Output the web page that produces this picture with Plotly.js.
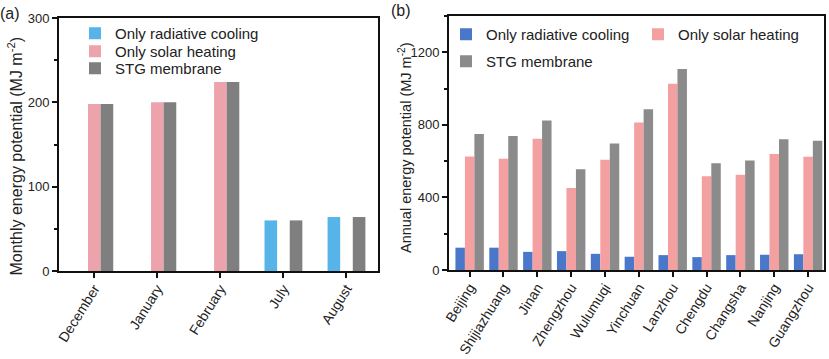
<!DOCTYPE html>
<html>
<head>
<meta charset="utf-8">
<script src="https://cdn.plot.ly/plotly-3.0.1.min.js"></script>
<style>html,body{margin:0;padding:0;background:#fff;}#chart{width:829px;height:359px;}</style>
</head>
<body>
<div id="chart"></div>
<script>
// Panel (a): monthly energy potential
const months = ['December', 'January', 'February', 'July', 'August'];
const monthCooling = [null, null, null, 60, 64];
const monthHeating = [198, 200, 224, null, null];
const monthSTG = [198, 200, 224, 60, 64];

// Panel (b): annual energy potential by city
const cities = ['Beijing', 'Shijiazhuang', 'Jinan', 'Zhengzhou', 'Wulumuqi', 'Yinchuan',
  'Lanzhou', 'Chengdu', 'Changsha', 'Nanjing', 'Guangzhou'];
const cityCooling = [123, 123, 100, 104, 89, 73, 82, 71, 82, 84, 87];
const cityHeating = [626, 613, 723, 452, 607, 813, 1026, 517, 525, 639, 624];
const citySTG = [749, 738, 824, 556, 697, 886, 1108, 589, 604, 721, 712];

const seriesNames = ['Only radiative cooling', 'Only solar heating', 'STG membrane'];
const titleA = 'Monthly energy potential (MJ m<sup>-2</sup>)';
const titleB = 'Annual energy potential (MJ m<sup>-2</sup>)';

const FONT = 'Arial, "Liberation Sans", Helvetica, sans-serif';
const TXT = '#222222';

const W = 829, H = 359;
const px = v => v / W;
const py = v => 1 - v / H;

function bar(x, y, name, color, xa, ya, offset, width, legend) {
  return {
    type: 'bar', x: x, y: y, name: name, xaxis: xa, yaxis: ya,
    offset: offset, width: width,
    marker: {color: color, line: {width: 0}},
    legend: legend, hoverinfo: 'x+y+name'
  };
}

const aW = 0.2, bW = 0.28;
const data = [
  bar(months, monthCooling, seriesNames[0], '#57b4e8', 'x', 'y', -1.5 * aW, aW, 'legend'),
  bar(months, monthHeating, seriesNames[1], '#eda3ab', 'x', 'y', -0.5 * aW, aW, 'legend2'),
  bar(months, monthSTG, seriesNames[2], '#7f7f7f', 'x', 'y', 0.5 * aW, aW, 'legend3'),
  bar(cities, cityCooling, seriesNames[0], '#4b77cb', 'x2', 'y2', -1.5 * bW, bW, 'legend4'),
  bar(cities, cityHeating, seriesNames[1], '#f5a0a0', 'x2', 'y2', -0.5 * bW, bW, 'legend5'),
  bar(cities, citySTG, seriesNames[2], '#8a8b8a', 'x2', 'y2', 0.5 * bW, bW, 'legend6')
];

const axisCommon = {
  showline: true, linecolor: '#111', linewidth: 2, mirror: true,
  showgrid: false, zeroline: false, automargin: false,
  ticks: 'outside', ticklen: 5, tickwidth: 2, tickcolor: '#111',
  tickfont: {family: FONT, size: 13, color: TXT}
};

const catFont = {family: FONT, size: 14, color: TXT};

function lg(xp, yTop) {
  return {
    font: {family: FONT, size: 15, color: TXT},
    bgcolor: 'rgba(0,0,0,0)', borderwidth: 0,
    xanchor: 'left', yanchor: 'top', orientation: 'v',
    x: px(xp), y: py(yTop)
  };
}

function ann(text, x, y, size, angle) {
  return {text: text, xref: 'paper', yref: 'paper', x: px(x), y: py(y),
    xanchor: 'center', yanchor: 'middle', textangle: angle || 0,
    showarrow: false, font: {family: FONT, size: size, color: TXT}};
}

const layout = {
  width: W, height: H,
  margin: {l: 0, r: 0, t: 0, b: 0, autoexpand: false},
  paper_bgcolor: '#fff', plot_bgcolor: '#fff',
  barmode: 'overlay',
  font: {family: FONT, size: 13, color: TXT},
  xaxis: Object.assign({}, axisCommon, {
    domain: [px(59), px(378)], anchor: 'y',
    type: 'category', range: [-0.56, 4.5], tickangle: -58, tickfont: catFont,
    ticklabelstandoff: -3
  }),
  yaxis: Object.assign({}, axisCommon, {
    domain: [py(271), py(18)], anchor: 'x',
    range: [0, 300], tickvals: [0, 100, 200, 300],
    minor: {ticks: 'outside', ticklen: 3, tickwidth: 2, tickcolor: '#111', dtick: 50, showgrid: false}
  }),
  xaxis2: Object.assign({}, axisCommon, {
    domain: [px(449), px(824)], anchor: 'y2',
    type: 'category', range: [-0.61, 10.47], tickangle: -58, tickfont: catFont,
    ticklabelstandoff: -3
  }),
  yaxis2: Object.assign({}, axisCommon, {
    domain: [py(270), py(16)], anchor: 'x2',
    range: [0, 1400], tickvals: [0, 400, 800, 1200],
    minor: {ticks: 'outside', ticklen: 3, tickwidth: 2, tickcolor: '#111', dtick: 200, showgrid: false}
  }),
  legend: lg(75, 17),
  legend2: lg(75, 35),
  legend3: lg(75, 52),
  legend4: lg(446, 18),
  legend5: lg(638, 18),
  legend6: lg(446, 45),
  showlegend: true,
  annotations: [
    ann('(a)', 10, 14, 16),
    ann('(b)', 401, 10, 16),
    ann(titleA, 15.5, 157, 16, -90),
    ann(titleB, 405, 148, 14.5, -90)
  ]
};

Plotly.newPlot('chart', data, layout, {staticPlot: true, displayModeBar: false});
</script>
</body>
</html>
